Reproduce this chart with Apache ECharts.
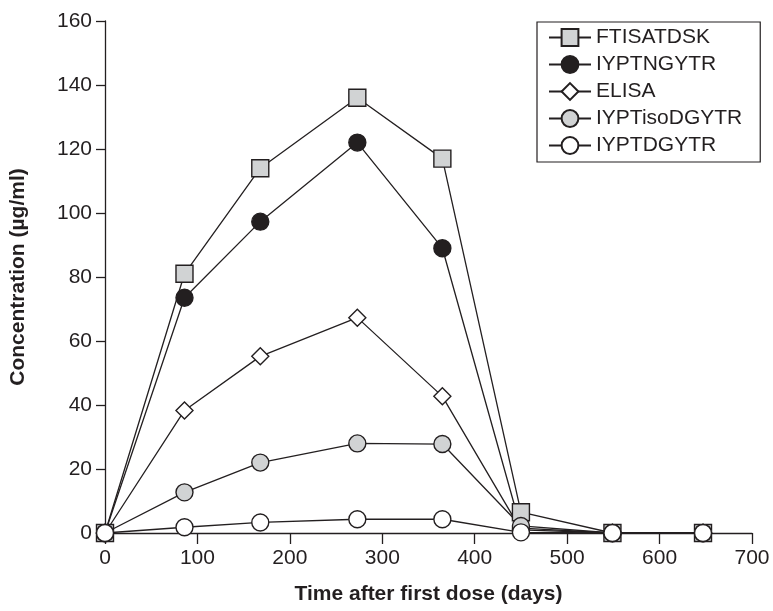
<!DOCTYPE html>
<html>
<head>
<meta charset="utf-8">
<script src="https://cdn.jsdelivr.net/npm/echarts@6/dist/echarts.min.js"></script>
<style>html,body{margin:0;padding:0;background:#fff}#c{width:773px;height:611px}</style>
</head>
<body>
<div id="c"></div>
<script>
var days = [0, 86, 168, 273, 365, 450, 549, 647];
var FTISATDSK = [0, 81, 114, 136, 117, 6.5, 0, 0];
var IYPTNGYTR = [0, 73.5, 97.3, 122, 89, 1.5, 0, 0];
var ELISA = [0, 38.3, 55.2, 67.3, 42.7, 1, 0, 0];
var IYPTisoDGYTR = [0, 12.7, 22, 28, 27.8, 2.2, 0, 0];
var IYPTDGYTR = [0, 1.8, 3.3, 4.3, 4.3, 0.2, 0, 0];
var seriesNames = ['FTISATDSK', 'IYPTNGYTR', 'ELISA', 'IYPTisoDGYTR', 'IYPTDGYTR'];
var seriesValues = [FTISATDSK, IYPTNGYTR, ELISA, IYPTisoDGYTR, IYPTDGYTR];
var xTitle = 'Time after first dose (days)';
var yTitle = 'Concentration (\u00b5g/ml)';

var ink = '#231f20';
var styles = [
  {symbol: 'rect', fill: '#d1d3d4', size: 17},
  {symbol: 'circle', fill: ink, size: 17},
  {symbol: 'diamond', fill: '#ffffff', size: 17},
  {symbol: 'circle', fill: '#d1d3d4', size: 17},
  {symbol: 'circle', fill: '#ffffff', size: 17}
];
var font = 'Liberation Sans, Arial, Helvetica, sans-serif';

function pairs(vals) { return days.map(function (d, i) { return [d, vals[i]]; }); }

var chart = echarts.init(document.getElementById('c'), null, {renderer: 'canvas'});
chart.setOption({
  animation: false,
  backgroundColor: '#ffffff',
  textStyle: {fontFamily: font},
  grid: {left: 105, right: 21, top: 21, bottom: 78, containLabel: false, outerBoundsMode: 'none'},
  legend: {
    orient: 'vertical',
    left: 537, top: 22,
    padding: [5, 18, 6, 11],
    itemWidth: 42, itemHeight: 21, itemGap: 6,
    borderColor: ink, borderWidth: 1.2,
    textStyle: {fontSize: 21, color: ink, fontFamily: font},
    data: seriesNames
  },
  xAxis: {
    type: 'value', min: 0, max: 700, interval: 100,
    name: xTitle, nameLocation: 'middle', nameGap: 51,
    nameTextStyle: {fontSize: 21, fontWeight: 'bold', color: ink, fontFamily: font},
    axisLine: {show: true, lineStyle: {color: ink, width: 1.3}},
    axisTick: {show: true, length: 11, lineStyle: {color: ink, width: 1.3}},
    axisLabel: {fontSize: 21, color: ink, margin: 15, fontFamily: font},
    splitLine: {show: false}
  },
  yAxis: {
    type: 'value', min: 0, max: 160, interval: 20,
    name: yTitle, nameLocation: 'middle', nameGap: 76,
    nameTextStyle: {fontSize: 21, fontWeight: 'bold', color: ink, fontFamily: font},
    axisLine: {show: true, lineStyle: {color: ink, width: 1.3}},
    axisTick: {show: true, length: 9, lineStyle: {color: ink, width: 1.3}},
    axisLabel: {fontSize: 21, color: ink, margin: 13, fontFamily: font},
    splitLine: {show: false}
  },
  series: seriesNames.map(function (n, i) {
    return {
      name: n, type: 'line', clip: false, showAllSymbol: true,
      symbol: styles[i].symbol, symbolSize: styles[i].size,
      lineStyle: {color: ink, width: 1.3},
      itemStyle: {color: styles[i].fill, borderColor: ink, borderWidth: 1.4, opacity: 1},
      emphasis: {disabled: true},
      data: pairs(seriesValues[i])
    };
  })
});
</script>
</body>
</html>
